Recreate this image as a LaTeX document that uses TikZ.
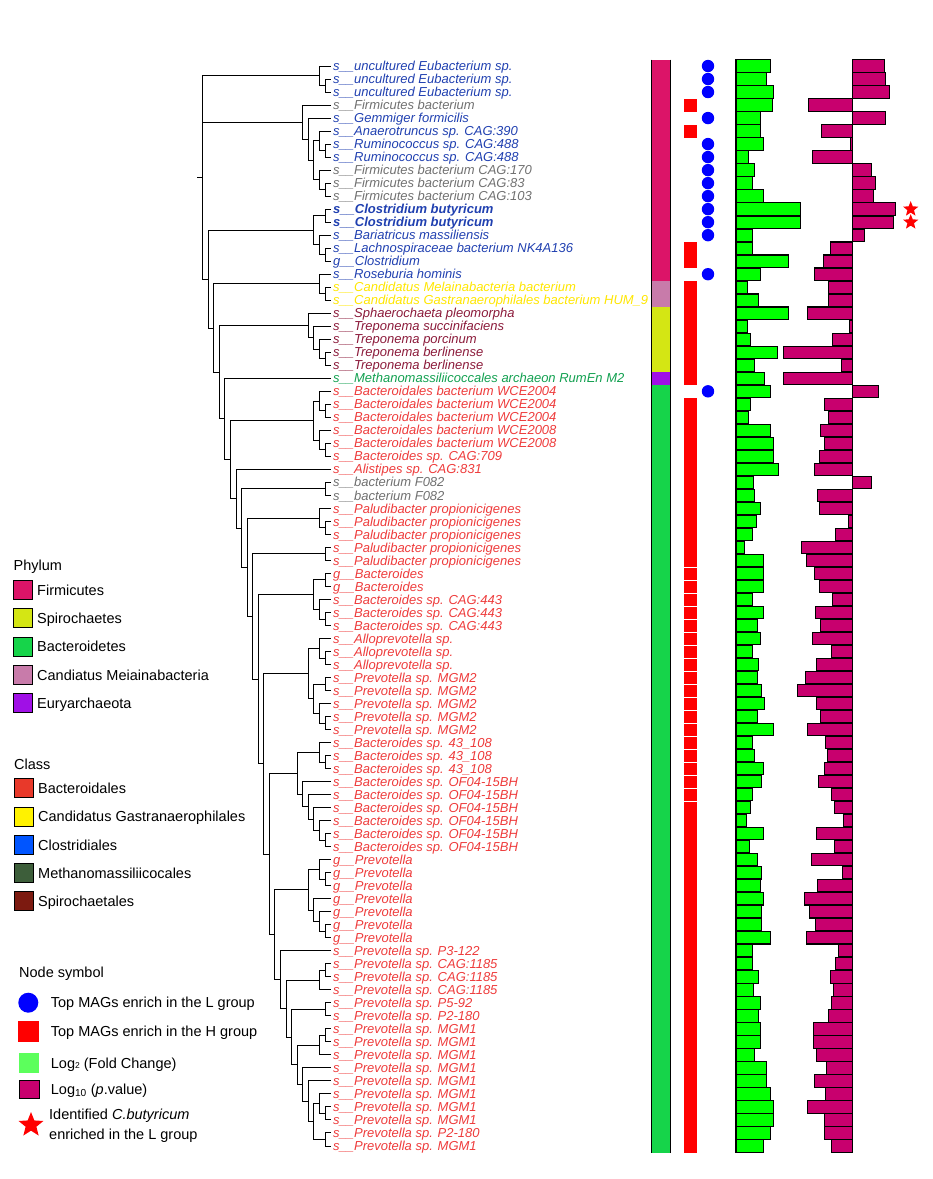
\documentclass[tikz,border=0pt]{standalone}
\usepackage{fontspec}
\setmainfont{Liberation Sans}
\usetikzlibrary{calc,shapes.geometric}
\definecolor{cFirm}{HTML}{DC1468}
\definecolor{cSpiro}{HTML}{D4E614}
\definecolor{cBact}{HTML}{16D44A}
\definecolor{cCand}{HTML}{C87BAA}
\definecolor{cEury}{HTML}{A010E6}
\definecolor{kBacd}{HTML}{E8392A}
\definecolor{kCand}{HTML}{FFF200}
\definecolor{kClos}{HTML}{0055FF}
\definecolor{kMeth}{HTML}{3D5E3A}
\definecolor{kSpir}{HTML}{7C1A10}
\definecolor{tBlue}{HTML}{2040B0}
\definecolor{tRed}{HTML}{EE3B3B}
\definecolor{tGray}{HTML}{707070}
\definecolor{tYel}{HTML}{FFE600}
\definecolor{tDred}{HTML}{8B1A3A}
\definecolor{tGrn}{HTML}{12A050}
\definecolor{barG}{HTML}{00FF00}
\definecolor{barM}{HTML}{C8006E}
\definecolor{legG}{HTML}{5CFF5C}
\newcommand\Yr[1]{(66+13.012*(#1-1))}
\newcommand\lab[3]{\node[lbl,text=#2] (t#1) at (333,{\Yr{#1}+4.6}) {#3};}
\newcommand\tn[4]{%
  \coordinate (y#1) at ($(y#3)!0.5!(y#4)$);
  \coordinate (#1) at ($(y#1)+({330.56-5.56*#2},0)$);}
\newcommand\ed[2]{\foreach \ch in {#2}{\draw[tree] (#1) |- (\ch);}}
\begin{document}
\begin{tikzpicture}[x=1pt,y=-1pt,
  tree/.style={line width=1pt, black},
  lbl/.style={anchor=base west, inner sep=0pt, font=\fontsize{13}{13}\selectfont\itshape},
  leg/.style={anchor=base west, inner sep=0pt, font=\fontsize{14.5}{14.5}\selectfont},
  gbar/.style={fill=barG, draw=black, line width=1.1pt},
  mbar/.style={fill=barM, draw=black, line width=1.1pt},
  sq/.style={draw=black, line width=1pt}]
\useasboundingbox (0,0) rectangle (933,1179);

% ---------- leaves ----------
\foreach \r in {1,...,84}{
  \coordinate (yl\r) at (0,{\Yr{\r}});
  \coordinate (l\r) at (330.5,{\Yr{\r}});
}
% ---------- tree nodes ----------
\tn{a23}{1}{l2}{l3} \tn{a13}{2}{l1}{a23}
\tn{b78}{1}{l7}{l8} \tn{b68}{2}{l6}{b78} \tn{b1011}{1}{l10}{l11} \tn{b911}{2}{l9}{b1011}
\tn{b611}{3}{b68}{b911} \tn{b511}{4}{l5}{b611} \tn{b411}{5}{l4}{b511}
\tn{c1213}{1}{l12}{l13} \tn{c1516}{1}{l15}{l16} \tn{c1416}{2}{l14}{c1516} \tn{c1216}{3}{c1213}{c1416}
\tn{d1819}{1}{l18}{l19} \tn{d1719}{2}{l17}{d1819}
\tn{e2324}{1}{l23}{l24} \tn{e2224}{2}{l22}{e2324} \tn{e2124}{3}{l21}{e2224} \tn{e2024}{4}{l20}{e2124}
\tn{f2728}{1}{l27}{l28} \tn{f2628}{2}{l26}{f2728} \tn{f3031}{1}{l30}{l31} \tn{f2931}{2}{l29}{f3031} \tn{f2631}{3}{f2628}{f2931}
\tn{g3334}{1}{l33}{l34}
\tn{h3637}{1}{l36}{l37} \tn{h3537}{2}{l35}{h3637}
\tn{i3839}{1}{l38}{l39}
\tn{j4041}{1}{l40}{l41} \tn{j4344}{1}{l43}{l44} \tn{j4244}{2}{l42}{j4344} \tn{j4044}{3}{j4041}{j4244}
\tn{k4647}{1}{l46}{l47} \tn{k4547}{2}{l45}{k4647} \tn{k4849}{1}{l48}{l49} \tn{k5152}{1}{l51}{l52}
\tn{k5052}{2}{l50}{k5152} \tn{k4852}{3}{k4849}{k5052} \tn{k4552}{4}{k4547}{k4852}
\tn{m5455}{1}{l54}{l55} \tn{m5355}{2}{l53}{m5455} \tn{m6061}{1}{l60}{l61} \tn{m5961}{2}{l59}{m6061}
\tn{m5861}{3}{l58}{m5961} \tn{m5761}{4}{l57}{m5861} \tn{m5661}{5}{l56}{m5761} \tn{m5361}{6}{m5355}{m5661}
\tn{n6364}{1}{l63}{l64} \tn{n6264}{2}{l62}{n6364} \tn{n6768}{1}{l67}{l68} \tn{n6668}{2}{l66}{n6768}
\tn{n6568}{3}{l65}{n6668} \tn{n6268}{4}{n6264}{n6568}
\tn{o7071}{1}{l70}{l71} \tn{o7072}{2}{o7071}{l72}
\tn{o7374}{1}{l73}{l74}
\tn{o7576}{1}{l75}{l76} \tn{o7577}{2}{o7576}{l77}
\tn{o8182}{1}{l81}{l82} \tn{o8082}{2}{l80}{o8182} \tn{o8384}{1}{l83}{l84} \tn{o8084}{3}{o8082}{o8384}
\tn{o7984}{4}{l79}{o8084} \tn{o7884}{5}{l78}{o7984}
\tn{nR}{6}{o7577}{o7884} \tn{nQ}{7}{o7374}{nR} \tn{nP}{8}{o7072}{nQ} \tn{nO}{9}{l69}{nP}
\tn{nN}{10}{n6268}{nO} \tn{nM}{11}{m5361}{nN} \tn{nL}{12}{k4552}{nM} \tn{nJ}{13}{j4044}{nL}
\tn{nI}{14}{i3839}{nJ} \tn{nH}{15}{h3537}{nI} \tn{nG}{16}{g3334}{nH} \tn{nF}{17}{l32}{nG}
\tn{nE}{18}{f2631}{nF} \tn{nD}{19}{l25}{nE} \tn{nC}{20}{e2024}{nD} \tn{nB}{21}{d1719}{nC}
\tn{nA}{22}{c1216}{nB} \tn{root}{23}{a13}{nA}
% ---------- tree edges ----------
\ed{a23}{l2,l3} \ed{a13}{l1,a23}
\ed{b78}{l7,l8} \ed{b68}{l6,b78} \ed{b1011}{l10,l11} \ed{b911}{l9,b1011}
\ed{b611}{b68,b911} \ed{b511}{l5,b611} \ed{b411}{l4,b511}
\ed{c1213}{l12,l13} \ed{c1516}{l15,l16} \ed{c1416}{l14,c1516} \ed{c1216}{c1213,c1416}
\ed{d1819}{l18,l19} \ed{d1719}{l17,d1819}
\ed{e2324}{l23,l24} \ed{e2224}{l22,e2324} \ed{e2124}{l21,e2224} \ed{e2024}{l20,e2124}
\ed{f2728}{l27,l28} \ed{f2628}{l26,f2728} \ed{f3031}{l30,l31} \ed{f2931}{l29,f3031} \ed{f2631}{f2628,f2931}
\ed{g3334}{l33,l34}
\ed{h3637}{l36,l37} \ed{h3537}{l35,h3637}
\ed{i3839}{l38,l39}
\ed{j4041}{l40,l41} \ed{j4344}{l43,l44} \ed{j4244}{l42,j4344} \ed{j4044}{j4041,j4244}
\ed{k4647}{l46,l47} \ed{k4547}{l45,k4647} \ed{k4849}{l48,l49} \ed{k5152}{l51,l52}
\ed{k5052}{l50,k5152} \ed{k4852}{k4849,k5052} \ed{k4552}{k4547,k4852}
\ed{m5455}{l54,l55} \ed{m5355}{l53,m5455} \ed{m6061}{l60,l61} \ed{m5961}{l59,m6061}
\ed{m5861}{l58,m5961} \ed{m5761}{l57,m5861} \ed{m5661}{l56,m5761} \ed{m5361}{m5355,m5661}
\ed{n6364}{l63,l64} \ed{n6264}{l62,n6364} \ed{n6768}{l67,l68} \ed{n6668}{l66,n6768}
\ed{n6568}{l65,n6668} \ed{n6268}{n6264,n6568}
\ed{o7071}{l70,l71} \ed{o7072}{o7071,l72}
\ed{o7374}{l73,l74}
\ed{o7576}{l75,l76} \ed{o7577}{o7576,l77}
\ed{o8182}{l81,l82} \ed{o8082}{l80,o8182} \ed{o8384}{l83,l84} \ed{o8084}{o8082,o8384}
\ed{o7984}{l79,o8084} \ed{o7884}{l78,o7984}
\ed{nR}{o7577,o7884} \ed{nQ}{o7374,nR} \ed{nP}{o7072,nQ} \ed{nO}{l69,nP}
\ed{nN}{n6268,nO} \ed{nM}{m5361,nN} \ed{nL}{k4552,nM} \ed{nJ}{j4044,nL}
\ed{nI}{i3839,nJ} \ed{nH}{h3537,nI} \ed{nG}{g3334,nH} \ed{nF}{l32,nG}
\ed{nE}{f2631,nF} \ed{nD}{l25,nE} \ed{nC}{e2024,nD} \ed{nB}{d1719,nC}
\ed{nA}{c1216,nB} \ed{root}{a13,b411,nA}
\coordinate (rootstub) at ($(root)+(-6,0)$);
\draw[tree] (root) -- (rootstub);

% ---------- labels ----------
\lab{1}{tBlue}{s\_\_uncultured Eubacterium sp.}
\lab{2}{tBlue}{s\_\_uncultured Eubacterium sp.}
\lab{3}{tBlue}{s\_\_uncultured Eubacterium sp.}
\lab{4}{tGray}{s\_\_Firmicutes bacterium}
\lab{5}{tBlue}{s\_\_Gemmiger formicilis}
\lab{6}{tBlue}{s\_\_Anaerotruncus sp. CAG:390}
\lab{7}{tBlue}{s\_\_Ruminococcus sp. CAG:488}
\lab{8}{tBlue}{s\_\_Ruminococcus sp. CAG:488}
\lab{9}{tGray}{s\_\_Firmicutes bacterium CAG:170}
\lab{10}{tGray}{s\_\_Firmicutes bacterium CAG:83}
\lab{11}{tGray}{s\_\_Firmicutes bacterium CAG:103}
\lab{12}{tBlue}{\bfseries s\_\_Clostridium butyricum}
\lab{13}{tBlue}{\bfseries s\_\_Clostridium butyricum}
\lab{14}{tBlue}{s\_\_Bariatricus massiliensis}
\lab{15}{tBlue}{s\_\_Lachnospiraceae bacterium NK4A136}
\lab{16}{tBlue}{g\_\_Clostridium}
\lab{17}{tBlue}{s\_\_Roseburia hominis}
\lab{18}{tYel}{s\_\_Candidatus Melainabacteria bacterium}
\lab{19}{tYel}{s\_\_Candidatus Gastranaerophilales bacterium HUM\_9}
\lab{20}{tDred}{s\_\_Sphaerochaeta pleomorpha}
\lab{21}{tDred}{s\_\_Treponema succinifaciens}
\lab{22}{tDred}{s\_\_Treponema porcinum}
\lab{23}{tDred}{s\_\_Treponema berlinense}
\lab{24}{tDred}{s\_\_Treponema berlinense}
\lab{25}{tGrn}{s\_\_Methanomassiliicoccales archaeon RumEn M2}
\lab{26}{tRed}{s\_\_Bacteroidales bacterium WCE2004}
\lab{27}{tRed}{s\_\_Bacteroidales bacterium WCE2004}
\lab{28}{tRed}{s\_\_Bacteroidales bacterium WCE2004}
\lab{29}{tRed}{s\_\_Bacteroidales bacterium WCE2008}
\lab{30}{tRed}{s\_\_Bacteroidales bacterium WCE2008}
\lab{31}{tRed}{s\_\_Bacteroides sp. CAG:709}
\lab{32}{tRed}{s\_\_Alistipes sp. CAG:831}
\lab{33}{tGray}{s\_\_bacterium F082}
\lab{34}{tGray}{s\_\_bacterium F082}
\foreach \r in {35,...,39}{\lab{\r}{tRed}{s\_\_Paludibacter propionicigenes}}
\foreach \r in {40,41}{\lab{\r}{tRed}{g\_\_Bacteroides}}
\foreach \r in {42,43,44}{\lab{\r}{tRed}{s\_\_Bacteroides sp. CAG:443}}
\foreach \r in {45,46,47}{\lab{\r}{tRed}{s\_\_Alloprevotella sp.}}
\foreach \r in {48,...,52}{\lab{\r}{tRed}{s\_\_Prevotella sp. MGM2}}
\foreach \r in {53,54,55}{\lab{\r}{tRed}{s\_\_Bacteroides sp. 43\_108}}
\foreach \r in {56,...,61}{\lab{\r}{tRed}{s\_\_Bacteroides sp. OF04-15BH}}
\foreach \r in {62,...,68}{\lab{\r}{tRed}{g\_\_Prevotella}}
\lab{69}{tRed}{s\_\_Prevotella sp. P3-122}
\foreach \r in {70,71,72}{\lab{\r}{tRed}{s\_\_Prevotella sp. CAG:1185}}
\lab{73}{tRed}{s\_\_Prevotella sp. P5-92}
\lab{74}{tRed}{s\_\_Prevotella sp. P2-180}
\foreach \r in {75,...,82}{\lab{\r}{tRed}{s\_\_Prevotella sp. MGM1}}
\lab{83}{tRed}{s\_\_Prevotella sp. P2-180}
\lab{84}{tRed}{s\_\_Prevotella sp. MGM1}

% ---------- phylum strip ----------
\fill[cFirm] (651.5,{\Yr{1}-6.5}) rectangle (670.3,{\Yr{17}+6.5});
\fill[cCand] (651.5,{\Yr{18}-6.5}) rectangle (670.3,{\Yr{19}+6.5});
\fill[cSpiro] (651.5,{\Yr{20}-6.5}) rectangle (670.3,{\Yr{24}+6.5});
\fill[cEury] (651.5,{\Yr{25}-6.5}) rectangle (670.3,{\Yr{25}+6.5});
\fill[cBact] (651.5,{\Yr{26}-6.5}) rectangle (670.3,{\Yr{84}+6.5});
\draw[line width=1pt] (651.5,{\Yr{1}-6.5}) -- (651.5,{\Yr{84}+6.5});
\draw[line width=1pt] (670.3,{\Yr{1}-6.5}) -- (670.3,{\Yr{84}+6.5});

% ---------- H-group squares ----------
\fill[red] (684,{\Yr{4}-6.5}) rectangle (697,{\Yr{4}+6.5});
\fill[red] (684,{\Yr{6}-6.5}) rectangle (697,{\Yr{6}+6.5});
\fill[red] (684,{\Yr{15}-6.5}) rectangle (697,{\Yr{16}+6.5});
\fill[red] (684,{\Yr{18}-6.5}) rectangle (697,{\Yr{25}+6.5});
\fill[red] (684,{\Yr{27}-6.5}) rectangle (697,{\Yr{84}+6.5});
\foreach \r in {39,...,57}{\draw[white,line width=0.9pt] (684,{\Yr{\r}+6.5}) -- (697,{\Yr{\r}+6.5});}

% ---------- L-group dots ----------
\foreach \r in {1,2,3,5,7,8,9,10,11,12,13,14,17,26}{\fill[blue] (708,{\Yr{\r}}) circle (6.2);}

% ---------- bars ----------
\foreach \r/\g/\m in {1/770.3/884.3,2/766.3/885.3,3/773.3/889.3,4/772.3/808.7,5/760.3/885.3,
6/760.3/821.7,7/763.3/850.3,8/748.3/812.7,9/754.3/871.3,10/752.3/875.3,11/763.3/873.3,
12/800.3/895.3,13/800.3/893.3,14/752.3/864.3,15/752.3/830.7,16/788.3/823.3,17/760.3/814.3,
18/747.3/828.3,19/758.3/828.3,20/788.3/807.3,21/747.3/849.3,22/750.3/832.3,23/777.3/783.3,
24/754.3/841.3,25/764.3/783.3,26/770.3/878.3,27/750.3/824.3,28/748.3/828.3,29/770.3/820.3,
30/773.3/824.3,31/773.3/819.3,32/778.3/814.3,33/753.3/871.7,34/754.3/817.3,35/760.3/819.3,
36/756.3/848.3,37/752.3/835.3,38/744.3/801.3,39/763.3/806.3,40/763.3/814.3,41/763.3/819.3,
42/752.3/832.3,43/763.3/815.3,44/757.3/820.3,45/760.3/812.3,46/752.3/831.3,47/758.3/816.3,
48/757.3/805.3,49/761.3/797.3,50/764.3/816.3,51/757.3/820.3,52/773.3/807.3,53/752.3/825.3,
54/754.3/827.3,55/763.3/824.3,56/761.3/818.3,57/752.3/831.3,58/750.3/834.3,59/746.3/843.3,
60/763.3/816.3,61/749.3/834.3,62/757.3/811.3,63/761.3/842.3,64/760.3/817.3,65/763.3/804.3,
66/761.3/809.3,67/761.3/815.3,68/770.3/806.3,69/752.3/838.3,70/752.3/835.3,71/758.3/830.3,
72/753.3/833.3,73/760.3/831.3,74/758.3/828.3,75/760.3/813.3,76/760.3/813.3,77/754.3/816.3,
78/766.3/826.3,79/766.3/814.3,80/770.3/825.3,81/773.3/807.3,82/773.3/824.3,83/770.3/824.3,
84/763.3/831.3}{
  \draw[gbar] (736,{\Yr{\r}-6.2}) rectangle (\g,{\Yr{\r}+6.2});
  \draw[mbar] (852.5,{\Yr{\r}-6.2}) rectangle (\m,{\Yr{\r}+6.2});
}
% ---------- stars ----------
\node[star,star points=5,star point ratio=2.3,fill=red,inner sep=0pt,minimum size=16pt] (st1) at (910.7,{\Yr{12}}) {};
\node[star,star points=5,star point ratio=2.3,fill=red,inner sep=0pt,minimum size=16pt] (st2) at (910.7,{\Yr{13}}) {};

% ---------- legend: Phylum ----------
\node[leg] (hPhy) at (13.5,570) {Phylum};
\foreach \c/\t/\yy [count=\i] in {cFirm/Firmicutes/590,cSpiro/Spirochaetes/618.3,cBact/Bacteroidetes/646.7,cCand/Candiatus Meiainabacteria/675,cEury/Euryarchaeota/703.3}{
  \draw[sq,fill=\c] (13.3,{\yy-9.5}) rectangle (32.7,{\yy+9.5});
  \node[leg] (lp\i) at (37,{\yy+5.2}) {\t};
}
% ---------- legend: Class ----------
\node[leg] (hCls) at (14,769) {Class};
\foreach \c/\t/\yy [count=\i] in {kBacd/Bacteroidales/788,kCand/Candidatus Gastranaerophilales/816.7,kClos/Clostridiales/845,kMeth/Methanomassiliicocales/873,kSpir/Spirochaetales/901}{
  \draw[sq,fill=\c] (14.3,{\yy-9.5}) rectangle (33.3,{\yy+9.5});
  \node[leg] (lc\i) at (38,{\yy+5.2}) {\t};
}
% ---------- legend: Node symbol ----------
\node[leg] (hNode) at (19,977.8) {Node symbol};
\fill[blue] (28.3,1002.7) circle (10);
\node[leg] (ln1) at (50.7,1007.9) {Top MAGs enrich in the L group};
\fill[red] (18.3,1021) rectangle (39,1041.7);
\node[leg] (ln2) at (50.7,1036.3) {Top MAGs enrich in the H group};
\fill[legG] (19,1053) rectangle (39,1072.7);
\node[leg] (ln3) at (50.7,1068.2) {Log{\fontsize{8.5}{8.5}\selectfont 2} (Fold Change)};
\draw[sq,fill=barM] (19,1080) rectangle (39,1098.3);
\node[leg] (ln4) at (50.7,1094.2) {Log\textsubscript{10} (\textit{p}.value)};
\node[star,star points=5,star point ratio=2.3,fill=red,inner sep=0pt,minimum size=26pt] (lstar) at (31,1125) {};
\node[leg] (ln5) at (49,1119.2) {Identified \textit{C.butyricum}};
\node[leg] (ln6) at (49,1139.2) {enriched in the L group};
\end{tikzpicture}
\end{document}
